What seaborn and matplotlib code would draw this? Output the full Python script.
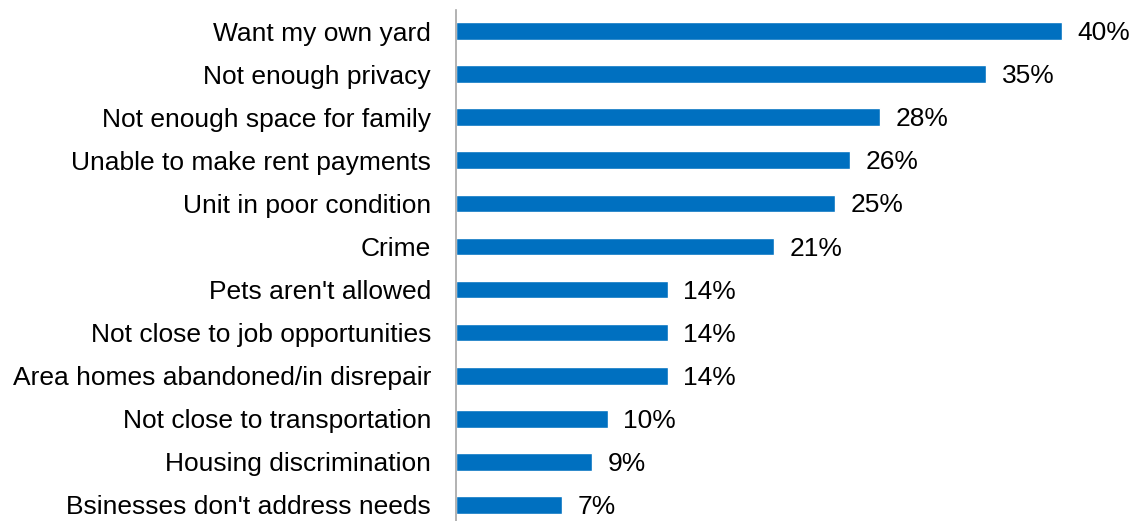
import matplotlib
matplotlib.use("Agg")
import matplotlib.pyplot as plt
import seaborn as sns
import pandas as pd

reasons = [
    "Want my own yard",
    "Not enough privacy",
    "Not enough space for family",
    "Unable to make rent payments",
    "Unit in poor condition",
    "Crime",
    "Pets aren't allowed",
    "Not close to job opportunities",
    "Area homes abandoned/in disrepair",
    "Not close to transportation",
    "Housing discrimination",
    "Bsinesses don't address needs",
]
shares = [40, 35, 28, 26, 25, 21, 14, 14, 14, 10, 9, 7]

df = pd.DataFrame({"reason": reasons, "share": shares})

sns.set_theme(style="white")
plt.rcParams["font.family"] = ["Liberation Sans", "DejaVu Sans"]

fig = plt.figure(figsize=(11.35, 5.21), dpi=100)
ax = fig.add_axes([0.4018, -0.0106, 0.5982, 0.9923])

sns.barplot(data=df, x="share", y="reason", color="#0070C0", saturation=1,
            width=0.41, ax=ax, orient="h")

for patch, val in zip(ax.patches, shares):
    y = patch.get_y() + patch.get_height() / 2
    ax.annotate(f"{val}%", (patch.get_width(), y), xytext=(11, -1.5),
                textcoords="offset points", ha="left", va="center",
                fontsize=19, color="#000000")

ax.set_xlim(0, 44.8)
ax.set_ylim(11.5, -0.5)
ax.set_xlabel("")
ax.set_ylabel("")
ax.set_xticks([])
ax.tick_params(axis="y", length=0, pad=18, labelsize=19, labelcolor="#000000")
for side in ["top", "right", "bottom"]:
    ax.spines[side].set_visible(False)
ax.spines["left"].set_color("#A6A6A6")
ax.spines["left"].set_linewidth(1.2)

fig.savefig("out.png", dpi=100)
